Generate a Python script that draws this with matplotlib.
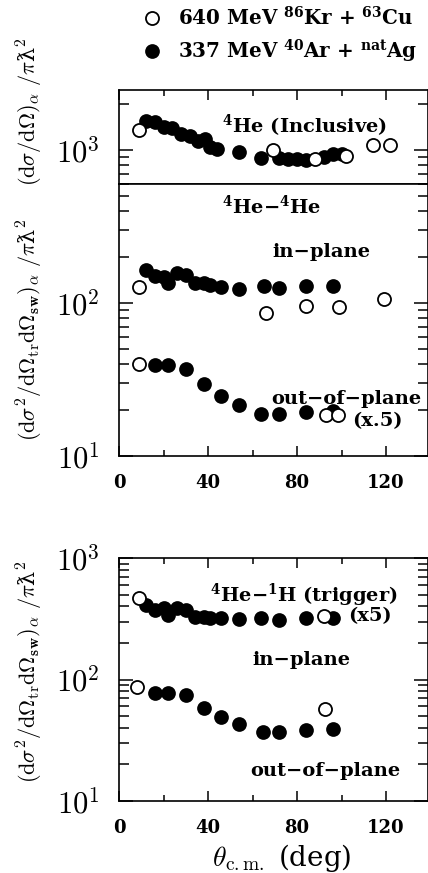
import numpy as np
import matplotlib
matplotlib.use("Agg")
import matplotlib.pyplot as plt
from matplotlib.ticker import MultipleLocator, LogLocator, FuncFormatter, NullFormatter

plt.rcParams["font.family"] = ["DejaVu Serif", "DejaVu Sans"]
plt.rcParams["font.weight"] = "bold"
plt.rcParams["mathtext.fontset"] = "cm"

# 4He inclusive
incl_kr_theta = [9, 69, 88, 102, 114, 122]
incl_kr_val = [1340, 1000, 870, 915, 1070, 1070]
incl_ar_theta = [12, 16, 20, 24, 28, 32, 35.5, 38.5, 41, 44, 54, 64, 72, 76, 80, 84, 92, 96, 100]
incl_ar_val = [1550, 1520, 1410, 1400, 1280, 1240, 1150, 1180, 1040, 1015, 975, 890, 880, 870, 870, 860, 900, 940, 940]

# 4He-4He in-plane
hehe_in_kr_theta = [9, 66, 84, 99, 119]
hehe_in_kr_val = [128, 86, 95, 94, 106]
hehe_in_ar_theta = [12, 16, 20, 22, 26, 30, 34, 38, 41, 46, 54, 65, 72, 84, 96]
hehe_in_ar_val = [165, 150, 149, 136, 156, 152, 136, 135, 131, 127, 123, 130, 125, 129, 129]

# 4He-4He out-of-plane (x.5)
hehe_out_kr_theta = [9, 93, 98.5]
hehe_out_kr_val = [40, 18.5, 18.5]
hehe_out_ar_theta = [16, 22, 30, 38, 46, 54, 64, 72, 84, 96]
hehe_out_ar_val = [39.5, 39.5, 37, 29.5, 24.5, 21.5, 18.8, 18.8, 19.5, 19.8]

# 4He-1H in-plane (x5)
heh_in_kr_theta = [9, 92]
heh_in_kr_val = [466, 333]
heh_in_ar_theta = [12, 16, 20, 22, 26, 30, 34, 38, 41, 46, 54, 64, 72, 84, 96]
heh_in_ar_val = [410, 373, 385, 340, 385, 373, 329, 329, 319, 319, 313, 319, 309, 319, 319]

# 4He-1H out-of-plane
heh_out_kr_theta = [8, 92.5]
heh_out_kr_val = [87, 57]
heh_out_ar_theta = [16, 22, 30, 38, 46, 54, 64.5, 72, 84, 96]
heh_out_ar_val = [77, 78, 74, 58, 49, 43, 37, 37, 38.5, 39]

kr_label = r"640 MeV $^{\mathbf{86}}$Kr + $^{\mathbf{63}}$Cu"
ar_label = r"337 MeV $^{\mathbf{40}}$Ar + $^{\mathbf{nat}}$Ag"

W, H = 428, 873
fig = plt.figure(figsize=(W / 100, H / 100), dpi=100)


def px_axes(left, top, right, bottom):
    return fig.add_axes([left / W, 1 - bottom / H, (right - left) / W, (bottom - top) / H])


ax_top = px_axes(119, 90, 428.3, 184)
ax_mid = px_axes(119, 184, 428.3, 456)
ax_low = px_axes(119, 558, 428.3, 801)

open_kw = dict(ls="none", marker="o", ms=9.4, mfc="white", mec="black", mew=1.3, zorder=4)
fill_kw = dict(ls="none", marker="o", ms=10.6, mfc="black", mec="black", mew=0, zorder=3)

h_ar, = ax_top.plot(incl_ar_theta, incl_ar_val, **fill_kw)
h_kr, = ax_top.plot(incl_kr_theta, incl_kr_val, **open_kw)
ax_mid.plot(hehe_in_ar_theta, hehe_in_ar_val, **fill_kw)
ax_mid.plot(hehe_in_kr_theta, hehe_in_kr_val, **open_kw)
ax_mid.plot(hehe_out_ar_theta, hehe_out_ar_val, **fill_kw)
ax_mid.plot(hehe_out_kr_theta, hehe_out_kr_val, **open_kw)
ax_low.plot(heh_in_ar_theta, heh_in_ar_val, **fill_kw)
ax_low.plot(heh_in_kr_theta, heh_in_kr_val, **open_kw)
ax_low.plot(heh_out_ar_theta, heh_out_ar_val, **fill_kw)
ax_low.plot(heh_out_kr_theta, heh_out_kr_val, **open_kw)

ax_top.set_ylim(600, 2460)
ax_mid.set_ylim(10, 600)
ax_low.set_ylim(10, 1000)

dec_fmt = FuncFormatter(lambda v, p: r"$10^{%d}$" % int(round(np.log10(v))))
for ax, top, bottom in [(ax_top, True, False), (ax_mid, False, True), (ax_low, True, True)]:
    ax.set_yscale("log")
    ax.set_xlim(0, 139)
    ax.xaxis.set_major_locator(MultipleLocator(40))
    ax.xaxis.set_minor_locator(MultipleLocator(20))
    ax.yaxis.set_major_locator(LogLocator(base=10))
    ax.yaxis.set_minor_locator(LogLocator(base=10, subs=np.arange(2, 10)))
    ax.yaxis.set_major_formatter(dec_fmt)
    ax.yaxis.set_minor_formatter(NullFormatter())
    ax.tick_params(which="both", direction="in", right=True, top=top, bottom=bottom,
                   labelbottom=bottom, width=1.1, colors="black")
    ax.tick_params(axis="x", which="major", length=7, labelsize=13, pad=13)
    ax.tick_params(axis="x", which="minor", length=4)
    ax.tick_params(axis="y", which="major", length=10, labelsize=22, pad=14)
    ax.tick_params(axis="y", which="minor", length=7)
    for s in ax.spines.values():
        s.set_linewidth(1.2)

txt_kw = dict(ha="center", va="center", fontsize=14, math_fontfamily="dejavuserif")
ax_top.text(83.6, 1435, r"$^{\mathbf{4}}$He (Inclusive)", **txt_kw)
ax_mid.text(68.5, 430, r"$^{\mathbf{4}}$He−$^{\mathbf{4}}$He", **txt_kw)
ax_mid.text(91, 215, "in−plane", **txt_kw)
ax_mid.text(102, 23.6, "out−of−plane", **txt_kw)
ax_mid.text(116.2, 16.9, "(x.5)", **txt_kw)
ax_low.text(83, 496, r"$^{\mathbf{4}}$He−$^{\mathbf{1}}$H (trigger)", **txt_kw)
ax_low.text(112.8, 333, "(x5)", **txt_kw)
ax_low.text(82, 145, "in−plane", **txt_kw)
ax_low.text(92.6, 17.7, "out−of−plane", **txt_kw)

ylab_kw = dict(rotation=90, ha="center", va="center", fontsize=16, fontweight="normal")
fig.text(30 / W, 1 - 112 / H, r"$(\mathrm{d}\sigma/\mathrm{d}\Omega)_\alpha\ /\pi$ƛ$^2$", **ylab_kw)
ylab2 = r"$(\mathrm{d}\sigma^2/\mathrm{d}\Omega_{\mathrm{tr}}\mathrm{d}\Omega_{\mathbf{sw}})_\alpha\ /\pi$ƛ$^2$"
fig.text(30 / W, 1 - 330 / H, ylab2, **ylab_kw)
fig.text(30 / W, 1 - 672 / H, ylab2, **ylab_kw)

fig.text(282 / W, 1 - 858 / H, r"$\theta_{\mathrm{c.m.}}$ (deg)", ha="center", va="center",
         fontsize=20, fontweight="normal")

leg = fig.legend([h_kr, h_ar], [kr_label, ar_label], loc="upper left",
                 bbox_to_anchor=(143 / W, 1 - 6 / H), frameon=False, fontsize=14.3,
                 handlelength=0.9, handletextpad=0.85, labelspacing=0.42, borderpad=0,
                 borderaxespad=0)
for t in leg.get_texts():
    t.set_math_fontfamily("dejavuserif")

fig.savefig("out.png", dpi=100)
